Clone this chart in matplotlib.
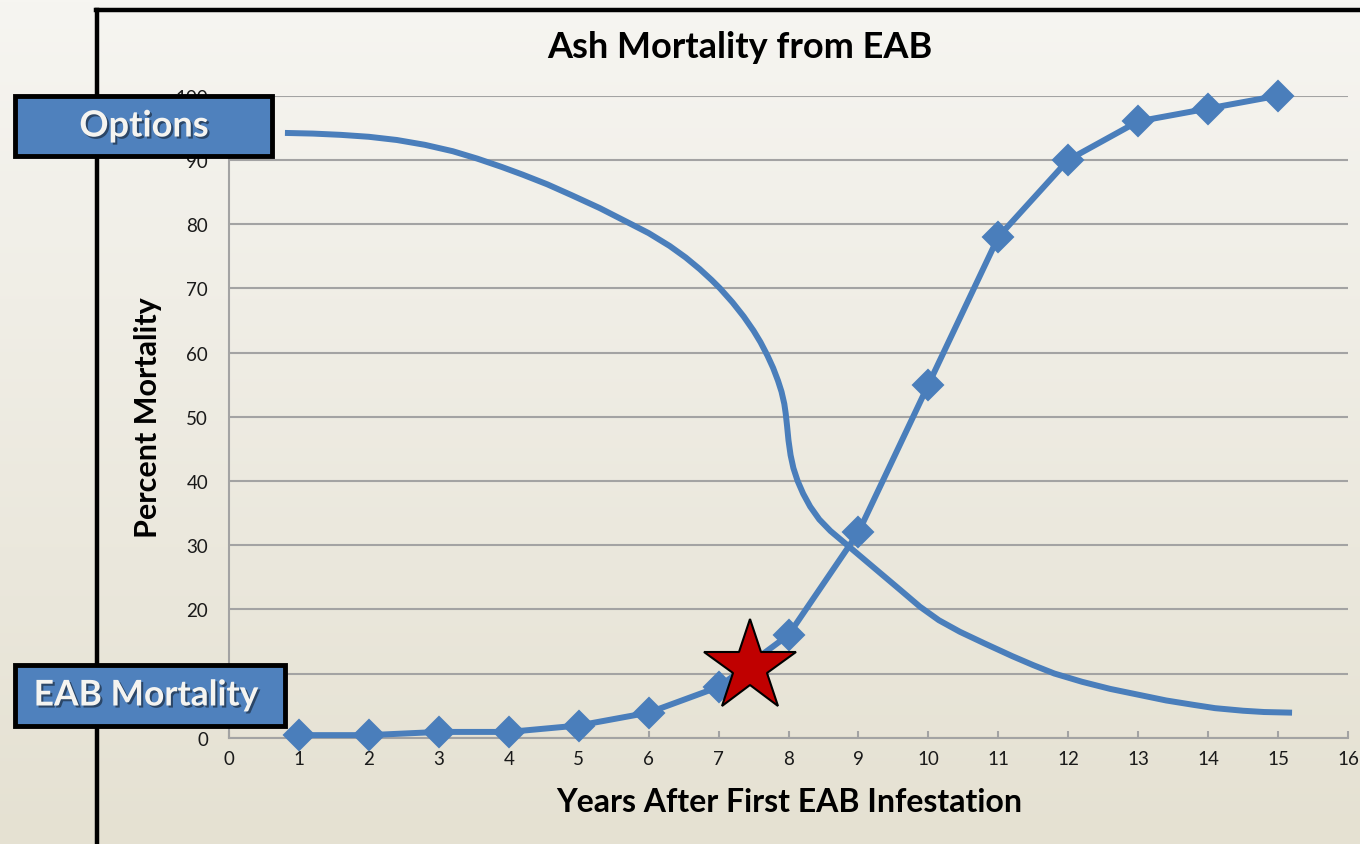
import numpy as np
import matplotlib
matplotlib.use('Agg')
import matplotlib.pyplot as plt
import matplotlib.patheffects as pe
from matplotlib.patches import Rectangle
from matplotlib.lines import Line2D
from matplotlib.colors import LinearSegmentedColormap

# EAB mortality series (diamonds)
years = [1, 2, 3, 4, 5, 6, 7, 8, 9, 10, 11, 12, 13, 14, 15]
mortality = [0.4, 0.4, 0.9, 0.9, 1.9, 3.9, 7.9, 16, 32, 55, 78, 90, 96, 98, 100]

# "Options" curve
options_x = [0.8, 1.2, 1.6, 2.0, 2.4, 2.8, 3.2, 3.55, 3.9, 4.2, 4.55, 4.9, 5.3,
             5.75, 6.0, 6.3, 6.53, 6.73, 6.9, 7.02, 7.2, 7.36, 7.5, 7.6, 7.7,
             7.78, 7.85, 7.9, 7.94, 7.96, 7.98, 8.0, 8.03, 8.07, 8.13, 8.21,
             8.31, 8.44, 8.6, 8.84, 9.1, 9.35, 9.6, 9.88, 10.15, 10.45, 10.8,
             11.2, 11.5, 11.8, 12.2, 12.6, 13.0, 13.4, 13.8, 14.1, 14.5, 14.8,
             15.2]
options_y = [94.2, 94.1, 93.9, 93.6, 93.1, 92.35, 91.35, 90.2, 88.9, 87.7, 86.2,
             84.5, 82.5, 80.0, 78.6, 76.6, 74.8, 73.0, 71.3, 70.0, 67.8, 65.6,
             63.4, 61.6, 59.5, 57.6, 55.6, 53.9, 52.0, 50.5, 48.5, 46.3, 44.0,
             42.0, 40.0, 38.0, 36.0, 34.0, 32.2, 30.0, 27.6, 25.3, 23.0, 20.4,
             18.3, 16.5, 14.7, 12.7, 11.3, 10.0, 8.7, 7.6, 6.7, 5.8, 5.1, 4.6,
             4.2, 4.0, 3.9]

star_pos = (7.45, 11)
x_ticks = list(range(0, 17))
y_ticks = list(range(0, 101, 10))

plt.rcParams['font.family'] = ['Lato', 'DejaVu Sans']

W, H = 1360, 845
fig = plt.figure(figsize=(W / 100, H / 100), dpi=100)

# background gradient
bg = fig.add_axes([0, 0, 1, 1], zorder=-2)
cmap = LinearSegmentedColormap.from_list('bg', ['#f6f5f1', '#e5e1d2'])
bg.imshow(np.linspace(0, 1, 256).reshape(-1, 1), aspect='auto', cmap=cmap,
          extent=[0, 1, 0, 1])
bg.axis('off')

blue = '#4a7ebb'
grid_c = '#a3a3a3'

ax = fig.add_axes([229 / W, 1 - 738.7 / H, 1119 / W, 642 / H])
ax.set_facecolor('none')
ax.set_xlim(0, 16)
ax.set_ylim(0, 100)
ax.set_xticks(x_ticks)
ax.set_yticks(y_ticks)
ax.yaxis.grid(True, color=grid_c, lw=1.5)
ax.set_axisbelow(True)
for s in ['top', 'right']:
    ax.spines[s].set_visible(False)
for s in ['left', 'bottom']:
    ax.spines[s].set_color(grid_c)
    ax.spines[s].set_linewidth(1.5)
ax.tick_params(axis='x', direction='in', length=5, width=1.5, color=grid_c,
               labelsize=13.5, pad=9, labelcolor='#1a1a1a')
ax.tick_params(axis='y', length=0, labelsize=13.5, pad=15, labelcolor='#1a1a1a')

ax.plot(options_x, options_y, color=blue, lw=4.3, solid_joinstyle='round',
        solid_capstyle='butt', clip_on=False, zorder=3)
ax.plot(years, mortality, color=blue, lw=4.3, marker='D', ms=15, mec=blue,
        mew=1.5, solid_joinstyle='round', clip_on=False, zorder=4)
ax.plot(*star_pos, marker='*', ms=69, mfc='#c00000', mec='black', mew=1.5,
        clip_on=False, zorder=5)

# frame lines
fig.add_artist(Line2D([97 / W, 97 / W], [0, 1 - 10.5 / H], color='black',
                      lw=3.2, transform=fig.transFigure, zorder=1))
fig.add_artist(Line2D([95.5 / W, 1], [1 - 10.5 / H, 1 - 10.5 / H], color='black',
                      lw=3.2, transform=fig.transFigure, zorder=1))

shadow = [pe.withSimplePatchShadow(offset=(1.5, -1.5), shadow_rgbFace='black',
                                   alpha=0.45)]
# label boxes
for (x0, y0, x1, y1, label, tx, fs) in [(15, 97, 272, 157, 'Options', 144, 26),
                                         (15, 666, 285, 727, 'EAB Mortality', 146, 25.5)]:
    fig.add_artist(Rectangle((x0 / W, 1 - y1 / H), (x1 - x0) / W, (y1 - y0) / H,
                             transform=fig.transFigure, fc='#4f81bd', ec='black',
                             lw=3.5, zorder=5))
    fig.text(tx / W, 1 - (y0 + y1) / 2 / H, label, ha='center',
             va='center', color='#f5f4f0', fontsize=fs, fontweight='bold',
             path_effects=shadow, zorder=6)

fig.text(740 / W, 1 - 48 / H, 'Ash Mortality from EAB', ha='center', va='center',
         fontsize=26, fontweight='bold')
fig.text(148 / W, 1 - 418 / H, 'Percent Mortality', ha='center', va='center',
         rotation=90, fontsize=22, fontweight='bold')
fig.text(789 / W, 1 - 803 / H, 'Years After First EAB Infestation', ha='center',
         va='center', fontsize=23, fontweight='bold')

fig.savefig('out.png', dpi=100)
